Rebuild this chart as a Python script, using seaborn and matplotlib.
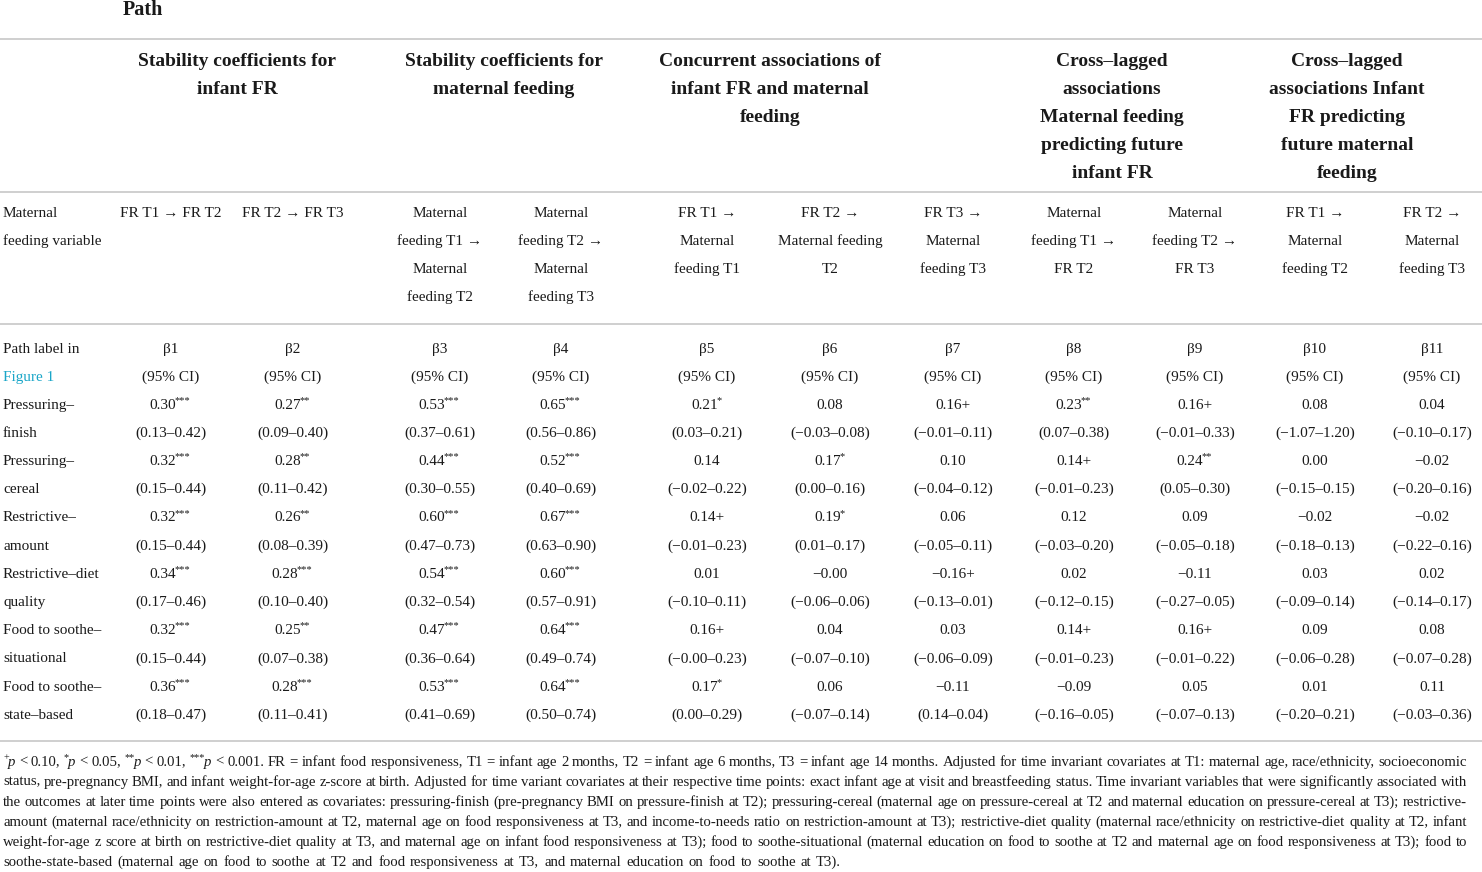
import matplotlib
matplotlib.use('Agg')
import matplotlib.pyplot as plt
import seaborn as sns

# ---- table content ----
group_titles = [
    'Stability coefficients for\ninfant FR',
    'Stability coefficients for\nmaternal feeding',
    'Concurrent associations of\ninfant FR and maternal\nfeeding',
    'Cross\u2013lagged\nassociations\nMaternal feeding\npredicting future\ninfant FR',
    'Cross\u2013lagged\nassociations Infant\nFR predicting\nfuture maternal\nfeeding',
]
path_labels = [
    'FR T1 \u2192 FR T2', 'FR T2 \u2192 FR T3',
    'Maternal\nfeeding T1 \u2192\nMaternal\nfeeding T2',
    'Maternal\nfeeding T2 \u2192\nMaternal\nfeeding T3',
    'FR T1 \u2192\nMaternal\nfeeding T1',
    'FR T2 \u2192\nMaternal feeding\nT2',
    'FR T3 \u2192\nMaternal\nfeeding T3',
    'Maternal\nfeeding T1 \u2192\nFR T2',
    'Maternal\nfeeding T2 \u2192\nFR T3',
    'FR T1 \u2192\nMaternal\nfeeding T2',
    'FR T2 \u2192\nMaternal\nfeeding T3',
]
betas = ['\u03b21', '\u03b22', '\u03b23', '\u03b24', '\u03b25', '\u03b26',
         '\u03b27', '\u03b28', '\u03b29', '\u03b210', '\u03b211']
row_labels = ['Pressuring\u2013\nfinish', 'Pressuring\u2013\ncereal',
              'Restrictive\u2013\namount', 'Restrictive\u2013diet\nquality',
              'Food to soothe\u2013\nsituational', 'Food to soothe\u2013\nstate\u2013based']

press_finish = ['0.30***', '0.27**', '0.53***', '0.65***', '0.21*', '0.08',
                '0.16+', '0.23**', '0.16+', '0.08', '0.04']
press_finish_ci = ['0.13\u20130.42', '0.09\u20130.40', '0.37\u20130.61', '0.56\u20130.86',
                   '0.03\u20130.21', '\u22120.03\u20130.08', '\u22120.01\u20130.11',
                   '0.07\u20130.38', '\u22120.01\u20130.33', '\u22121.07\u20131.20',
                   '\u22120.10\u20130.17']
press_cereal = ['0.32***', '0.28**', '0.44***', '0.52***', '0.14', '0.17*',
                '0.10', '0.14+', '0.24**', '0.00', '\u22120.02']
press_cereal_ci = ['0.15\u20130.44', '0.11\u20130.42', '0.30\u20130.55', '0.40\u20130.69',
                   '\u22120.02\u20130.22', '0.00\u20130.16', '\u22120.04\u20130.12',
                   '\u22120.01\u20130.23', '0.05\u20130.30', '\u22120.15\u20130.15',
                   '\u22120.20\u20130.16']
restr_amount = ['0.32***', '0.26**', '0.60***', '0.67***', '0.14+', '0.19*',
                '0.06', '0.12', '0.09', '\u22120.02', '\u22120.02']
restr_amount_ci = ['0.15\u20130.44', '0.08\u20130.39', '0.47\u20130.73', '0.63\u20130.90',
                   '\u22120.01\u20130.23', '0.01\u20130.17', '\u22120.05\u20130.11',
                   '\u22120.03\u20130.20', '\u22120.05\u20130.18', '\u22120.18\u20130.13',
                   '\u22120.22\u20130.16']
restr_diet = ['0.34***', '0.28***', '0.54***', '0.60***', '0.01', '\u22120.00',
              '\u22120.16+', '0.02', '\u22120.11', '0.03', '0.02']
restr_diet_ci = ['0.17\u20130.46', '0.10\u20130.40', '0.32\u20130.54', '0.57\u20130.91',
                 '\u22120.10\u20130.11', '\u22120.06\u20130.06', '\u22120.13\u20130.01',
                 '\u22120.12\u20130.15', '\u22120.27\u20130.05', '\u22120.09\u20130.14',
                 '\u22120.14\u20130.17']
soothe_sit = ['0.32***', '0.25**', '0.47***', '0.64***', '0.16+', '0.04',
              '0.03', '0.14+', '0.16+', '0.09', '0.08']
soothe_sit_ci = ['0.15\u20130.44', '0.07\u20130.38', '0.36\u20130.64', '0.49\u20130.74',
                 '\u22120.00\u20130.23', '\u22120.07\u20130.10', '\u22120.06\u20130.09',
                 '\u22120.01\u20130.23', '\u22120.01\u20130.22', '\u22120.06\u20130.28',
                 '\u22120.07\u20130.28']
soothe_state = ['0.36***', '0.28***', '0.53***', '0.64***', '0.17*', '0.06',
                '\u22120.11', '\u22120.09', '0.05', '0.01', '0.11']
soothe_state_ci = ['0.18\u20130.47', '0.11\u20130.41', '0.41\u20130.69', '0.50\u20130.74',
                   '0.00\u20130.29', '\u22120.07\u20130.14', '0.14\u20130.04',
                   '\u22120.16\u20130.05', '\u22120.07\u20130.13', '\u22120.20\u20130.21',
                   '\u22120.03\u20130.36']

coef_rows = [press_finish, press_cereal, restr_amount, restr_diet, soothe_sit, soothe_state]
ci_rows = [press_finish_ci, press_cereal_ci, restr_amount_ci, restr_diet_ci,
           soothe_sit_ci, soothe_state_ci]

# "^+p" style words get a superscript mark and an italic p
footnote = [
    '^+p < 0.10, ^*p < 0.05, ^**p < 0.01, ^***p < 0.001. FR = infant food responsiveness, T1 = infant age 2 months, T2 = infant age 6 months, T3 = infant age 14 months. Adjusted for time invariant covariates at T1: maternal age, race/ethnicity, socioeconomic',
    'status, pre-pregnancy BMI, and infant weight-for-age z-score at birth. Adjusted for time variant covariates at their respective time points: exact infant age at visit and breastfeeding status. Time invariant variables that were significantly associated with',
    'the outcomes at later time points were also entered as covariates: pressuring-finish (pre-pregnancy BMI on pressure-finish at T2); pressuring-cereal (maternal age on pressure-cereal at T2 and maternal education on pressure-cereal at T3); restrictive-',
    'amount (maternal race/ethnicity on restriction-amount at T2, maternal age on food responsiveness at T3, and income-to-needs ratio on restriction-amount at T3); restrictive-diet quality (maternal race/ethnicity on restrictive-diet quality at T2, infant',
    'weight-for-age z score at birth on restrictive-diet quality at T3, and maternal age on infant food responsiveness at T3); food to soothe-situational (maternal education on food to soothe at T2 and maternal age on food responsiveness at T3); food to',
    'soothe-state-based (maternal age on food to soothe at T2 and food responsiveness at T3, and maternal education on food to soothe at T3).',
]

# ---- layout ----
col_x = [171, 293, 440, 561, 707, 830, 953, 1074, 1195, 1315, 1432]
group_x = [237, 504, 770, 1112, 1347]
rule_y = [39, 192, 324, 741]
step = 28.2
body_fs = 11
rule_color = '#cccccc'

sns.set_theme(style='white')
plt.rcParams['font.family'] = ['Liberation Serif', 'DejaVu Serif']
plt.rcParams['text.color'] = '#1a1a1a'

fig = plt.figure(figsize=(14.82, 8.72), dpi=100)
ax = fig.add_axes([0, 0, 1, 1])
ax.set_xlim(0, 1482)
ax.set_ylim(872, 0)
ax.axis('off')
renderer = fig.canvas.get_renderer()


def width(t):
    return t.get_window_extent(renderer).width


def lines(x, y0, text, **kw):
    for i, part in enumerate(text.split('\n')):
        ax.text(x, y0 + i * step, part, va='center', **kw)


def coef_cell(cx, y, s, fs):
    # number plus raised small asterisks, centred as one piece
    n = len(s) - len(s.rstrip('*'))
    if n == 0:
        ax.text(cx, y, s, ha='center', va='center', fontsize=fs)
        return
    t1 = ax.text(0, y, s[:-n], ha='left', va='center', fontsize=fs)
    t2 = ax.text(0, y - 4.5, '*' * n, ha='left', va='center', fontsize=fs * 0.68)
    w1, w2 = width(t1), width(t2)
    left = cx - (w1 + w2) / 2
    t1.set_x(left)
    t2.set_x(left + w1 - 1.5)


def foot_word(y, w, fs):
    # returns list of (text obj, width)
    if w.startswith('^'):
        sup = w[1:w.index('p')]
        rest = w[w.index('p'):]
        a = ax.text(0, y - 4, sup, fontsize=fs * 0.7, va='center')
        b = ax.text(0, y, rest, fontsize=fs, va='center', style='italic')
        return [(a, width(a) - 1), (b, width(b))]
    t = ax.text(0, y, w, fontsize=fs, va='center')
    return [(t, width(t))]


for y in rule_y:
    ax.hlines(y, 0, 1482, color=rule_color, lw=1.3)

ax.text(123, 10, 'Path', fontsize=14.5, fontweight='bold', va='center')

for gx, title in zip(group_x, group_titles):
    lines(gx, 61, title, ha='center', fontsize=14, fontweight='bold')

lines(3, 213, 'Maternal\nfeeding variable', fontsize=body_fs)
for cx, lab in zip(col_x, path_labels):
    lines(cx, 213, lab, ha='center', fontsize=body_fs)

ax.text(3, 349, 'Path label in', fontsize=body_fs, va='center')
ax.text(3, 377, 'Figure 1', fontsize=body_fs, va='center', color='#1aa6c8')
for cx, b in zip(col_x, betas):
    ax.text(cx, 349, b, ha='center', va='center', fontsize=body_fs)
    ax.text(cx, 377, '(95% CI)', ha='center', va='center', fontsize=body_fs)

y0 = 405
for r, (lab, coefs, cis) in enumerate(zip(row_labels, coef_rows, ci_rows)):
    yc = y0 + 2 * r * step
    lines(3, yc, lab, fontsize=body_fs)
    for cx, c, ci in zip(col_x, coefs, cis):
        coef_cell(cx, yc, c, body_fs)
        ax.text(cx, yc + step, '(' + ci + ')', ha='center', va='center', fontsize=body_fs)

# footnote, justified like the source
foot_fs = 10.6
fx0, fx1 = 3, 1467
for i, line in enumerate(footnote):
    fy = 762 + i * 20
    words = [foot_word(fy, w, foot_fs) for w in line.split(' ')]
    total = sum(sum(wd for _, wd in grp) for grp in words)
    if i == len(footnote) - 1:
        gap = foot_fs * 100 / 72 * 0.33
    else:
        gap = (fx1 - fx0 - total) / (len(words) - 1)
    x = fx0
    for grp in words:
        for t, wd in grp:
            t.set_x(x)
            x += wd
        x += gap

fig.savefig('out.png', dpi=100, facecolor='white')
